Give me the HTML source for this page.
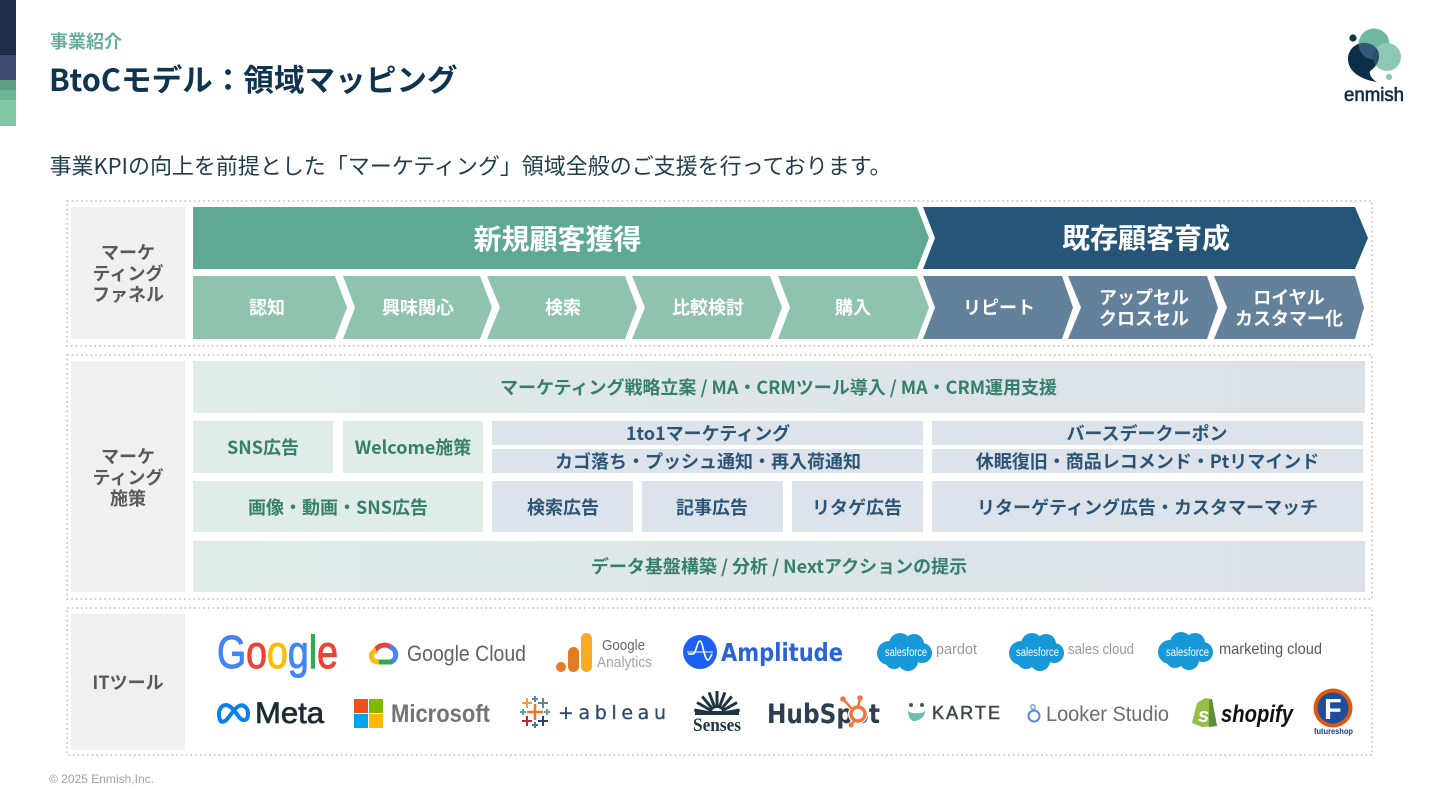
<!DOCTYPE html>
<html lang="ja"><head><meta charset="utf-8"><title>BtoCモデル：領域マッピング</title>
<style>
html,body{margin:0;padding:0;background:#fff;width:1440px;height:810px;overflow:hidden}
svg{display:block}
text{font-family:"Noto Sans CJK JP","Liberation Sans",sans-serif}
.b{font-weight:700}
.lab{font-size:18px;font-weight:700;fill:#595959;text-anchor:middle}
.w{font-size:18px;font-weight:700;fill:#fff;text-anchor:middle}
.g{font-size:18px;font-weight:700;fill:#35806a;text-anchor:middle}
.n{font-size:18px;font-weight:700;fill:#2b5477;text-anchor:middle}
text.l{font-family:"Liberation Sans",sans-serif}
text.d{font-family:"DejaVu Sans",sans-serif}
</style></head><body>
<svg width="1440" height="810" viewBox="0 0 1440 810" xmlns="http://www.w3.org/2000/svg">
<defs>
<linearGradient id="gr" x1="0" x2="1" y1="0" y2="0"><stop offset="0" stop-color="#e0ece8"/><stop offset="1" stop-color="#dbe0e7"/></linearGradient>
<g id="cloud"><circle cx="13" cy="20" r="12"/><circle cx="24" cy="11" r="11"/><circle cx="38" cy="11" r="10"/><circle cx="46" cy="20" r="10"/><circle cx="32" cy="28" r="10"/><circle cx="18" cy="27" r="9"/></g>
<clipPath id="bub"><path d="M1364 43C1354 43 1348 51 1348 59C1348 70 1358 79 1377 82C1372 79 1369 75 1370 71C1375 68 1379 62 1379 56C1379 49 1373 43 1364 43Z"/></clipPath>
</defs>
<rect width="1440" height="810" fill="#fff"/>
<rect x="0" y="0" width="16" height="55" fill="#1f2d49"/>
<rect x="0" y="55" width="16" height="25" fill="#3e4a72"/>
<rect x="0" y="80" width="16" height="10" fill="#5c9f85"/>
<rect x="0" y="90" width="16" height="10" fill="#6cb698"/>
<rect x="0" y="100" width="16" height="26" fill="#80c8a4"/>

<text x="50" y="48" class="b" font-size="18" fill="#68ae99">事業紹介</text>
<text x="49" y="91" class="b" font-size="30.600" fill="#0f3450">BtoCモデル：領域マッピング</text>
<text x="49.500" y="174" font-size="22" fill="#1f3d4d" textLength="842">事業KPIの向上を前提とした「マーケティング」領域全般のご支援を行っております。</text>

<!-- enmish logo -->
<circle cx="1374" cy="44" r="15.500" fill="#6fb8a1"/>
<circle cx="1387" cy="57" r="14" fill="#8cc8b2"/>
<circle cx="1353" cy="38" r="3.600" fill="#0f3450"/>
<circle cx="1389" cy="77" r="3.200" fill="#8cc8b2"/>
<path d="M1364 43C1354 43 1348 51 1348 59C1348 70 1358 79 1377 82C1372 79 1369 75 1370 71C1375 68 1379 62 1379 56C1379 49 1373 43 1364 43Z" fill="#0c2e49"/>
<g clip-path="url(#bub)"><circle cx="1374" cy="44" r="15.500" fill="#33587a"/><circle cx="1387" cy="57" r="14" fill="#2a4e6b"/></g>
<text x="1344" y="101" class="l" font-size="19" fill="#0f2d46" stroke="#0f2d46" stroke-width=".6" textLength="60" lengthAdjust="spacingAndGlyphs">enmish</text>

<!-- dotted frames -->
<g fill="none" stroke="#cdcdcd" stroke-width="2" stroke-dasharray="1.600 3.100">
<rect x="67" y="201" width="1305" height="145"/>
<rect x="67" y="355" width="1305" height="244"/>
<rect x="67" y="608" width="1305" height="147"/>
</g>
<rect x="71" y="207" width="114" height="132" fill="#f0f0f0"/>
<rect x="71" y="361" width="114" height="231" fill="#f0f0f0"/>
<rect x="71" y="614" width="114" height="136" fill="#f0f0f0"/>
<text x="128" y="259" class="lab">マーケ</text><text x="128" y="280" class="lab">ティング</text><text x="128" y="301" class="lab">ファネル</text>
<text x="128" y="463" class="lab">マーケ</text><text x="128" y="484" class="lab">ティング</text><text x="128" y="505" class="lab">施策</text>
<text x="128" y="689" class="lab">ITツール</text>

<!-- arrows -->
<path d="M193 207H917L929 238L917 269H193Z" fill="#5fa894"/>
<path d="M923 207H1355L1368 238L1355 269H923L935 238Z" fill="#265578"/>
<text x="557.500" y="249" class="b" font-size="28" fill="#fff" text-anchor="middle">新規顧客獲得</text>
<text x="1146" y="248" class="b" font-size="28" fill="#fff" text-anchor="middle">既存顧客育成</text>
<g fill="#8fc3ae">
<path d="M193 276H335L347 307.500L335 339H193Z"/>
<path d="M343 276H480L492 307.500L480 339H343L355 307.500Z"/>
<path d="M487 276H625L637 307.500L625 339H487L500 307.500Z"/>
<path d="M632 276H770L782 307.500L770 339H632L645 307.500Z"/>
<path d="M778 276H917L929 307.500L917 339H778L790 307.500Z"/>
</g>
<g fill="#64819c">
<path d="M923 276H1062L1073 307.500L1062 339H923L935 307.500Z"/>
<path d="M1068 276H1207L1218 307.500L1207 339H1068L1081 307.500Z"/>
<path d="M1214 276H1355L1364 307.500L1355 339H1214L1227 307.500Z"/>
</g>
<text x="267" y="314" class="w">認知</text>
<text x="418" y="314" class="w">興味関心</text>
<text x="563" y="314" class="w">検索</text>
<text x="708" y="314" class="w">比較検討</text>
<text x="853" y="314" class="w">購入</text>
<text x="999" y="314" class="w">リピート</text>
<text x="1144" y="304" class="w">アップセル</text><text x="1144" y="325" class="w">クロスセル</text>
<text x="1289" y="304" class="w">ロイヤル</text><text x="1289" y="325" class="w">カスタマー化</text>

<!-- measures -->
<rect x="193" y="361" width="1172" height="52" fill="url(#gr)"/>
<rect x="193" y="541" width="1172" height="51" fill="url(#gr)"/>
<g fill="#e0ece8">
<rect x="193" y="421" width="140" height="52"/>
<rect x="343" y="421" width="140" height="52"/>
<rect x="193" y="481" width="290" height="51"/>
</g>
<g fill="#dde3ea">
<rect x="492" y="421" width="431" height="24"/>
<rect x="492" y="449" width="431" height="24"/>
<rect x="932" y="421" width="431" height="24"/>
<rect x="932" y="449" width="431" height="24"/>
<rect x="492" y="481" width="141" height="51"/>
<rect x="642" y="481" width="141" height="51"/>
<rect x="792" y="481" width="131" height="51"/>
<rect x="932" y="481" width="431" height="51"/>
</g>
<text x="778.500" y="394" class="g" textLength="557">マーケティング戦略立案 / MA・CRMツール導入 / MA・CRM運用支援</text>
<text x="263" y="454" class="g">SNS広告</text>
<text x="413" y="454" class="g">Welcome施策</text>
<text x="338" y="514" class="g">画像・動画・SNS広告</text>
<text x="779" y="573" class="g">データ基盤構築 / 分析 / Nextアクションの提示</text>
<text x="708" y="440" class="n">1to1マーケティング</text>
<text x="708" y="468" class="n">カゴ落ち・プッシュ通知・再入荷通知</text>
<text x="1147" y="440" class="n">バースデークーポン</text>
<text x="1147.500" y="468" class="n">休眠復旧・商品レコメンド・Ptリマインド</text>
<text x="563" y="514" class="n">検索広告</text>
<text x="712" y="514" class="n">記事広告</text>
<text x="857" y="514" class="n">リタゲ広告</text>
<text x="1147.500" y="514" class="n">リターゲティング広告・カスタマーマッチ</text>

<!-- row 1 logos -->
<text x="217" y="668" class="l" font-size="46" stroke-width="1" textLength="121" lengthAdjust="spacingAndGlyphs"><tspan fill="#4285f4" stroke="#4285f4">G</tspan><tspan fill="#ea4335" stroke="#ea4335">o</tspan><tspan fill="#fbbc05" stroke="#fbbc05">o</tspan><tspan fill="#4285f4" stroke="#4285f4">g</tspan><tspan fill="#34a853" stroke="#34a853">l</tspan><tspan fill="#ea4335" stroke="#ea4335">e</tspan></text>

<g fill="none" stroke-width="5">
<path d="M374 653A11 11 0 0 1 392 648" stroke="#ea4335"/>
<path d="M390 647A8 8 0 0 1 391 662" stroke="#4285f4"/>
<path d="M392 662H378" stroke="#34a853"/>
<path d="M379 662C370 662 369 653 376 650" stroke="#fbbc05"/>
</g>
<text x="407" y="661" class="l" font-size="22" fill="#5f6368" textLength="119" lengthAdjust="spacingAndGlyphs">Google Cloud</text>

<circle cx="561" cy="667" r="5" fill="#e37b24"/>
<rect x="568" y="647" width="11" height="25" rx="5.500" fill="#e37b24"/>
<rect x="581" y="633" width="11" height="39" rx="5.500" fill="#f9ab1f"/>
<text x="602" y="650" class="l" font-size="14.500" fill="#62666b" textLength="43" lengthAdjust="spacingAndGlyphs">Google</text>
<text x="597" y="667" class="l" font-size="15" fill="#a0a4a8" textLength="55" lengthAdjust="spacingAndGlyphs">Analytics</text>

<circle cx="700" cy="652" r="17" fill="#1e61f0"/>
<path d="M688 654H693C696 654 697 641 700 641C703 641 704 660 708 660C709 660 711 656 712 654" fill="none" stroke="#fff" stroke-width="1.600"/>
<path d="M687 652H713" stroke="#fff" stroke-width="1"/>
<text x="721" y="661" class="d" font-size="25" font-weight="700" fill="#2a62d8" textLength="122" lengthAdjust="spacingAndGlyphs">Amplitude</text>

<use href="#cloud" x="876" y="633" fill="#1798d8"/>
<text x="885" y="656" class="l" font-size="11.500" fill="#fff" textLength="42" lengthAdjust="spacingAndGlyphs">salesforce</text>
<text x="936" y="654" class="l" font-size="15" fill="#9a9a9a" textLength="41" lengthAdjust="spacingAndGlyphs">pardot</text>

<use href="#cloud" x="1008" y="633" fill="#1798d8"/>
<text x="1016" y="656" class="l" font-size="11.500" fill="#fff" textLength="43" lengthAdjust="spacingAndGlyphs">salesforce</text>
<text x="1068" y="654" class="l" font-size="15" fill="#9a9a9a" textLength="66" lengthAdjust="spacingAndGlyphs">sales cloud</text>

<use href="#cloud" x="1157" y="632" fill="#1798d8"/>
<text x="1166" y="656" class="l" font-size="11.500" fill="#fff" textLength="43" lengthAdjust="spacingAndGlyphs">salesforce</text>
<text x="1219" y="654" class="l" font-size="16" fill="#5a5a5a" textLength="103" lengthAdjust="spacingAndGlyphs">marketing cloud</text>

<!-- row 2 logos -->
<path d="M220 720C217 711 221 705 226 705C231 705 236 713 239 717C243 722 248 721 248 714C248 707 243 704 239 706C235 708 232 713 228 718C225 722 221 723 220 720Z" fill="none" stroke="#0a7ff0" stroke-width="4"/>
<text x="255" y="723" class="l" font-size="30" fill="#1c2b33" stroke="#1c2b33" stroke-width=".7" textLength="69" lengthAdjust="spacingAndGlyphs">Meta</text>

<rect x="354" y="699" width="14" height="14" fill="#f25022"/>
<rect x="369" y="699" width="14" height="14" fill="#7fba00"/>
<rect x="354" y="714" width="14" height="14" fill="#00a4ef"/>
<rect x="369" y="714" width="14" height="14" fill="#ffb900"/>
<text x="391" y="722" class="l" font-size="25" font-weight="700" fill="#737373" textLength="99" lengthAdjust="spacingAndGlyphs">Microsoft</text>

<g stroke-width="2" fill="none">
<path d="M535 704V720M527 712H543" stroke="#e8762c" stroke-width="2.500"/>
<path d="M527 698V708M522 703H532" stroke="#f2a03c"/>
<path d="M543 698V708M538 703H548" stroke="#5b879b"/>
<path d="M527 716V726M522 721H532" stroke="#c72037"/>
<path d="M543 716V726M538 721H548" stroke="#1f447b"/>
<path d="M535 696V702M532 699H538" stroke="#5b879b"/>
<path d="M535 722V728M532 725H538" stroke="#5b6f8f"/>
<path d="M523 709V715M520 712H526" stroke="#59a3a5"/>
<path d="M547 709V715M544 712H550" stroke="#7099a6"/>
</g>
<text x="558" y="719" class="d" font-size="19" fill="#2a4a70" stroke="#2a4a70" stroke-width=".3" textLength="108">+ a b l e a u</text>

<g fill="none" stroke="#1f3340" stroke-width="3">
<path d="M694.300 710L711 713M697 702.500L712 711M702.200 696.400L713 709.400M709.100 692.400L715 708.400M717 691V708M724.900 692.400L719 708.400M731.800 696.400L721 709.400M737 702.500L722 711M739.700 710L723 713"/>
</g>
<rect x="695" y="711" width="44" height="4" fill="#1f3340"/>
<text x="693" y="731" font-size="19" font-weight="700" style="font-family:'Liberation Serif',serif" fill="#1f3340" textLength="48" lengthAdjust="spacingAndGlyphs">Senses</text>

<text x="767" y="723" class="d" font-size="27" font-weight="700" fill="#2d3e50" textLength="113" lengthAdjust="spacingAndGlyphs">HubSpot</text>
<circle cx="858" cy="714" r="10" fill="#fff"/>
<circle cx="858" cy="714" r="7" fill="none" stroke="#f2743e" stroke-width="3.500"/>
<path d="M858 707L860 699M852 709L843 699M855 720L851 725" stroke="#f2743e" stroke-width="2.500"/>
<circle cx="860" cy="698" r="2.800" fill="#f2743e"/><circle cx="843" cy="699" r="2.800" fill="#f2743e"/><circle cx="851" cy="725" r="2.500" fill="#f2743e"/>

<circle cx="911" cy="705" r="2" fill="#4a5560"/><circle cx="922" cy="705" r="2" fill="#4a5560"/>
<path d="M908 711C911 714 922 714 925 711C925 717 919 721 914 721C910 721 908 716 908 711Z" fill="#6dbcac"/>
<text x="932" y="719" class="l" font-size="18" fill="#3e464d" stroke="#3e464d" stroke-width=".5" textLength="68">KARTE</text>

<circle cx="1033" cy="707" r="2.200" fill="none" stroke="#7aa0de" stroke-width="1.500"/>
<circle cx="1034" cy="716" r="5.500" fill="none" stroke="#5b87d6" stroke-width="2"/>
<text x="1046" y="721" class="l" font-size="21" fill="#6b6f73" textLength="123" lengthAdjust="spacingAndGlyphs">Looker Studio</text>

<path d="M1192 723L1197 703L1205 698L1212 699L1217 726L1202 727Z" fill="#95bf47"/>
<path d="M1212 699L1217 726L1209 727L1209 700Z" fill="#5e8e3e"/>
<text x="1198" y="722" class="l" font-size="20" font-weight="700" font-style="italic" fill="#fff">s</text>
<text x="1221" y="722" class="l" font-size="24" font-weight="700" font-style="italic" fill="#111" textLength="72" lengthAdjust="spacingAndGlyphs">shopify</text>

<circle cx="1333" cy="708" r="19.500" fill="#e0570f"/>
<circle cx="1333" cy="708" r="15.500" fill="#1d4d9c"/>
<text x="1324" y="719" class="l" font-size="29" font-weight="700" fill="#fff">F</text>
<text x="1314" y="734" class="l" font-size="8" font-weight="700" fill="#1b3f7a" textLength="39" lengthAdjust="spacingAndGlyphs">futureshop</text>

<text x="49" y="783" class="l" font-size="12" fill="#a0a0a0" textLength="105" lengthAdjust="spacingAndGlyphs">© 2025 Enmish,Inc.</text>
</svg>
</body></html>
